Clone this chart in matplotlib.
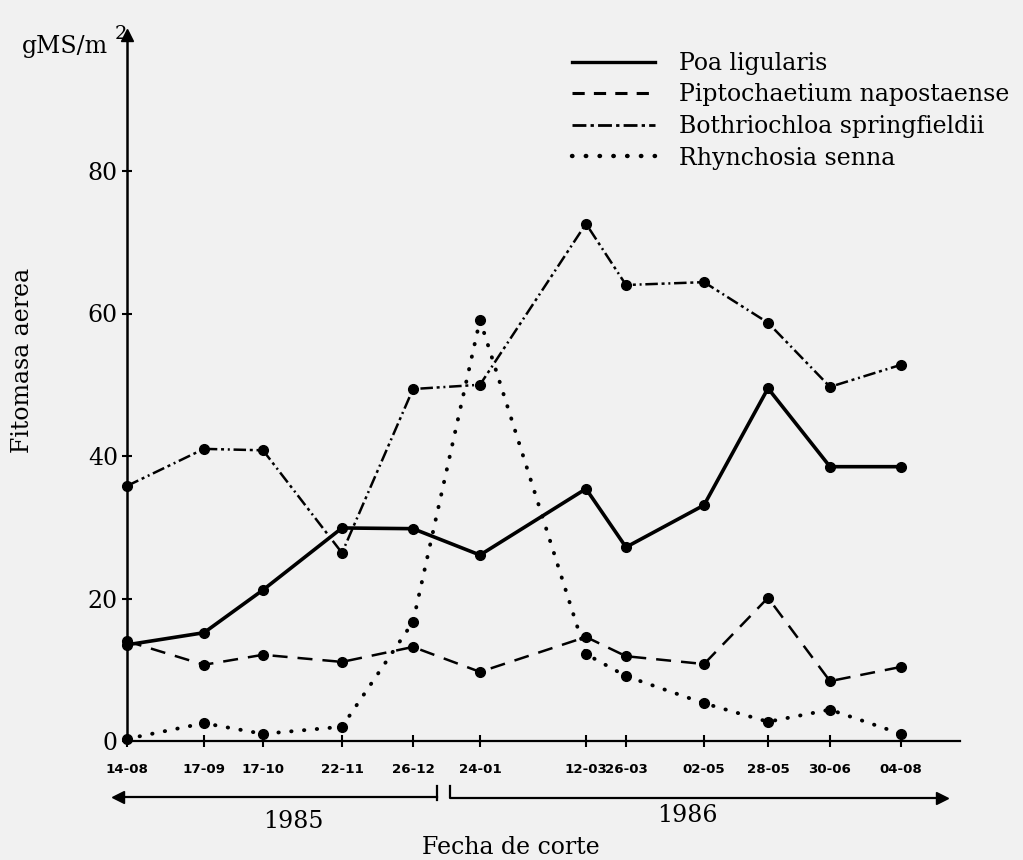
import matplotlib
matplotlib.use("Agg")
import matplotlib.pyplot as plt
from matplotlib.lines import Line2D

# ---- data ----
dates = ["14-08", "17-09", "17-10", "22-11", "26-12", "24-01",
         "12-03", "26-03", "02-05", "28-05", "30-06", "04-08"]
# position of each cutting date along the horizontal axis (as drawn)
x_pos = [127, 204, 263, 342, 413, 480, 586, 626, 704, 768, 830, 901]
poa = [13.5, 15.2, 21.2, 29.9, 29.8, 26.1, 35.4, 27.2, 33.1, 49.5, 38.5, 38.5]
pipto = [14.0, 10.7, 12.1, 11.1, 13.2, 9.7, 14.6, 11.9, 10.8, 20.1, 8.4, 10.4]
bothrio = [35.8, 41.0, 40.8, 26.4, 49.4, 50.0, 72.6, 64.0, 64.4, 58.7, 49.7, 52.8]
rhyncho = [0.3, 2.5, 1.0, 2.0, 16.7, 59.1, 12.2, 9.1, 5.3, 2.7, 4.4, 1.0]
y_ticks = [0, 20, 40, 60, 80]
series_names = ["Poa ligularis", "Piptochaetium napostaense",
                "Bothriochloa springfieldii", "Rhynchosia senna"]
years = ["1985", "1986"]

W, H = 1023, 860
BG = "#f1f1f1"
SERIF = ["DejaVu Serif"]
FS = 17

def fx(px):
    return px / W

def fy(py):
    return 1 - py / H

fig = plt.figure(figsize=(W / 100, H / 100), dpi=100, facecolor=BG)
ax = fig.add_axes([fx(127), fy(741), fx(960) - fx(127), fy(35) - fy(741)])
ax.set_facecolor(BG)
ax.set_xlim(127, 960)
ax.set_ylim(0, (741 - 35) / 7.125)

for s in ["top", "right"]:
    ax.spines[s].set_visible(False)
ax.spines["left"].set_linewidth(1.8)
ax.spines["bottom"].set_linewidth(1.6)

# arrow tip on y axis
ax.plot([0], [1], marker="^", color="black", markersize=9,
        transform=ax.transAxes, clip_on=False)

# series
ax.plot(x_pos, poa, color="black", lw=2.6, marker="o", markersize=7,
        solid_joinstyle="round", clip_on=False)
ax.plot(x_pos, pipto, color="black", lw=1.8, linestyle=(0, (6, 4)),
        marker="o", markersize=7, clip_on=False)
ax.plot(x_pos, bothrio, color="black", lw=1.8,
        linestyle=(0, (5, 1.5, 1.2, 1.5, 0.8, 1.5)),
        marker="o", markersize=7, clip_on=False)
ax.plot(x_pos, rhyncho, color="black", lw=2.8, linestyle=(0, (0.1, 3.2)),
        dash_capstyle="round", marker="o", markersize=7, clip_on=False)

# ticks
ax.set_yticks(y_ticks)
ax.set_yticklabels([str(v) for v in y_ticks], fontfamily=SERIF, fontsize=FS)
ax.tick_params(axis="y", direction="inout", length=7, width=1.5, pad=3)
ax.set_xticks(x_pos)
ax.set_xticklabels(dates, fontfamily=["DejaVu Sans"], fontsize=9.6,
                   fontweight="bold")
ax.tick_params(axis="x", direction="inout", length=8, width=1.5, pad=12)

# legend
styles = [
    dict(color="black", lw=2.4),
    dict(color="black", lw=2.2, linestyle=(0, (4, 3))),
    dict(color="black", lw=2.0, linestyle=(0, (5, 1.5, 1.2, 1.5))),
    dict(color="black", lw=3.2, linestyle=(0, (0.1, 3)), dash_capstyle="round"),
]
handles = [Line2D([], [], **st) for st in styles]
leg = fig.legend(handles, series_names, loc="upper left",
                 bbox_to_anchor=(fx(572), fy(52)), frameon=False,
                 prop={"family": SERIF, "size": FS}, handlelength=3.5,
                 handletextpad=1.05, labelspacing=0.36, borderpad=0,
                 borderaxespad=0)

# unit label
fig.text(fx(108), fy(46), "gMS/m", ha="right", va="center",
         fontfamily=SERIF, fontsize=FS)
fig.text(fx(115), fy(34), "2", ha="left", va="center",
         fontfamily=SERIF, fontsize=14)

# y label
fig.text(fx(23), fy(360), "Fitomasa aerea", rotation=90, ha="center",
         va="center", fontfamily=SERIF, fontsize=FS)

# year arrows under the axis
fig.add_artist(Line2D([fx(437), fx(125)], [fy(797), fy(797)],
                      color="black", lw=1.6))
fig.add_artist(Line2D([fx(437), fx(437)], [fy(786), fy(800)],
                      color="black", lw=1.6))
fig.add_artist(Line2D([fx(450), fx(450), fx(935)], [fy(786), fy(798), fy(798)],
                      color="black", lw=1.6))
fig.add_artist(Line2D([fx(118)], [fy(797)], marker="<", color="black",
                      markersize=9))
fig.add_artist(Line2D([fx(942)], [fy(798)], marker=">", color="black",
                      markersize=9))

fig.text(fx(293), fy(822), years[0], ha="center", va="center",
         fontfamily=SERIF, fontsize=FS)
fig.text(fx(687), fy(815), years[1], ha="center", va="center",
         fontfamily=SERIF, fontsize=FS)
fig.text(fx(511), fy(847), "Fecha de corte", ha="center", va="center",
         fontfamily=SERIF, fontsize=FS)

fig.savefig("out.png", dpi=100, facecolor=BG)
